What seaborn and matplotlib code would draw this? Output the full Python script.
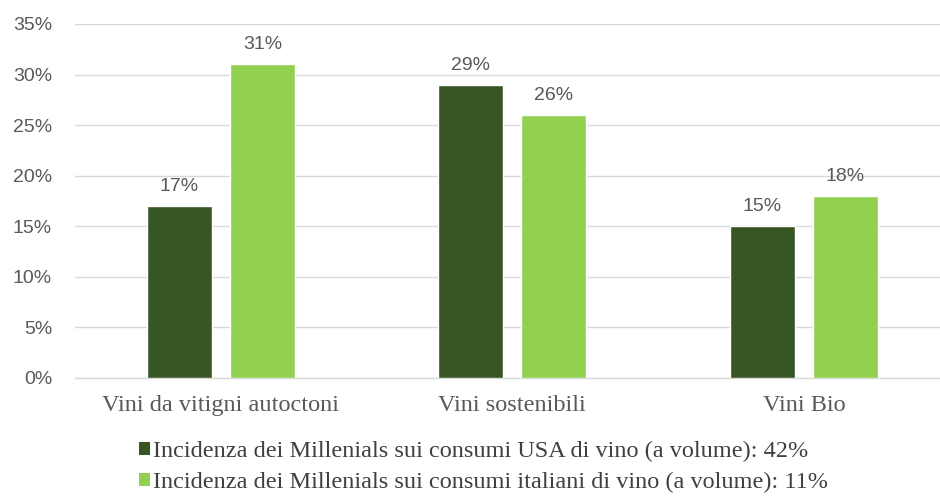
import matplotlib
matplotlib.use("Agg")
import matplotlib.pyplot as plt
import seaborn as sns
import pandas as pd
from matplotlib.patches import Patch

categories = ["Vini da vitigni autoctoni", "Vini sostenibili", "Vini Bio"]
series_names = [
    "Incidenza dei Millenials sui consumi USA di vino (a volume): 42%",
    "Incidenza dei Millenials sui consumi italiani di vino (a volume): 11%",
]
usa_values = [17, 29, 15]
italy_values = [31, 26, 18]
y_ticks = [0, 5, 10, 15, 20, 25, 30, 35]
colors = ["#375623", "#92D050"]

df = pd.DataFrame({
    "categoria": categories * 2,
    "serie": [series_names[0]] * 3 + [series_names[1]] * 3,
    "valore": usa_values + italy_values,
})

sns.set_theme(style="white")
plt.rcParams["font.family"] = ["Liberation Sans", "DejaVu Sans"]

fig = plt.figure(figsize=(9.4, 4.96), dpi=100)
ax = fig.add_axes([75 / 940, 1 - 378 / 496, (940 - 75) / 940, (378 - 24) / 496])

sns.barplot(data=df, x="categoria", y="valore", hue="serie", order=categories,
            hue_order=series_names, palette=colors, width=0.57, gap=0.22,
            saturation=1, ax=ax, legend=False, zorder=3)

ax.set_ylim(0, 35)
ax.set_xlim(-0.5, 2.467)
ax.set_yticks(y_ticks)
ax.set_yticklabels([f"{v}%" for v in y_ticks], fontsize=14, color="#595959")
ax.tick_params(axis="y", length=0, pad=16.5)
ax.tick_params(axis="x", length=0, pad=12)
ax.set_xticks(range(len(categories)))
ax.set_xticklabels(categories, family=["Liberation Serif"], fontsize=17.5, color="#595959")
ax.set_xlabel("")
ax.set_ylabel("")
ax.grid(axis="y", color="#d9d9d9", linewidth=1, zorder=0)
for s in ["top", "right", "left"]:
    ax.spines[s].set_visible(False)
ax.spines["bottom"].set_color("#d9d9d9")
ax.spines["bottom"].set_linewidth(1)

for cont in ax.containers:
    ax.bar_label(cont, labels=[f"{v:.0f}%" for v in cont.datavalues], padding=8,
                 fontsize=14, color="#595959")

handles = [Patch(facecolor=c, edgecolor="none") for c in colors]
fig.legend(handles, series_names, loc="upper left", bbox_to_anchor=(129 / 940, 1 - 431 / 496),
           frameon=False, prop={"family": "Liberation Serif", "size": 17.5},
           labelcolor="#404040", handlelength=0.45, handleheight=0.45, handletextpad=0.15,
           labelspacing=0.42, borderaxespad=0)

fig.savefig("out.png", dpi=100)
